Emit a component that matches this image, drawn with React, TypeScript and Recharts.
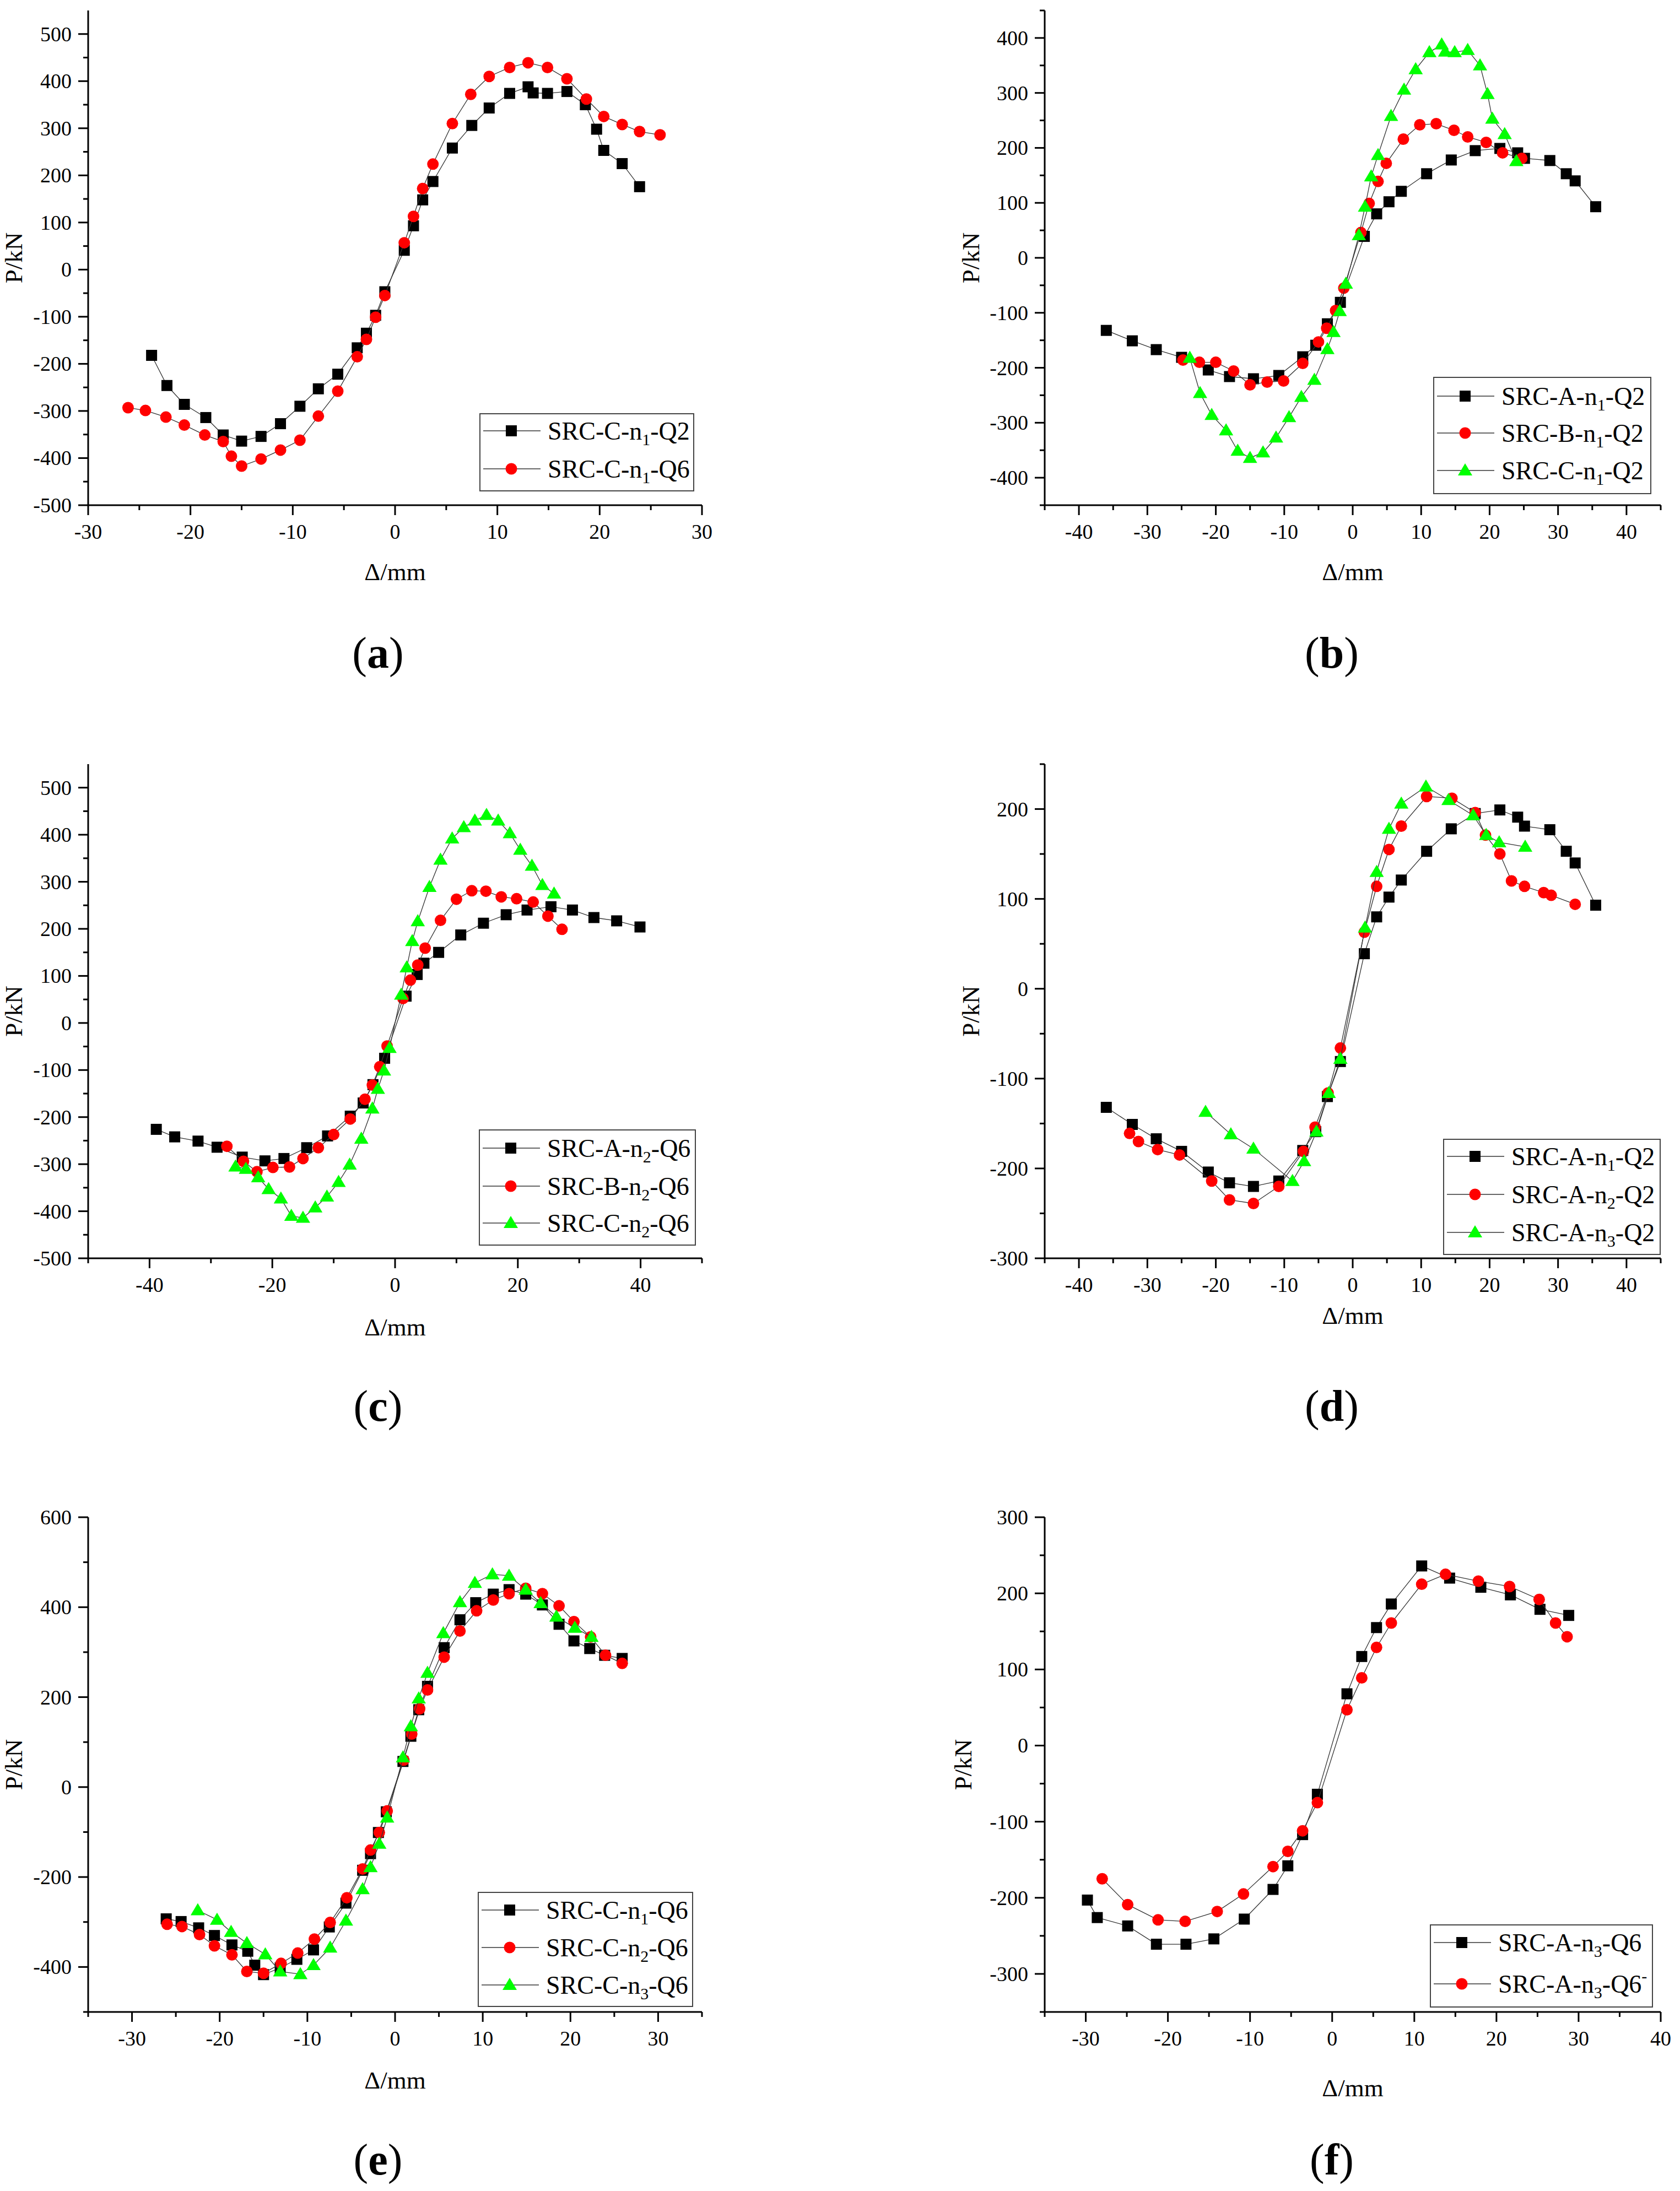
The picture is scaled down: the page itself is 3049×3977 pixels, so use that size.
import React from 'react';
import { ScatterChart, Scatter, XAxis, YAxis, Legend } from 'recharts';

const FONT = '"Liberation Serif", "Times New Roman", serif';

type Pt = [number, number];

// skeleton curves (Δ in mm, P in kN)
const C_n1_Q2: Pt[] = [[-23.8,-182],[-22.3,-246],[-20.6,-286],[-18.5,-314],[-16.8,-351],[-15.0,-364],[-13.1,-354],[-11.2,-327],[-9.3,-290],[-7.5,-253],[-5.6,-222],[-3.7,-166],[-2.8,-135],[-1.9,-97],[-1.0,-47],[0.9,41],[1.8,93],[2.7,148],[3.7,187],[5.6,258],[7.5,306],[9.2,343],[11.2,374],[13.0,388],[13.5,375],[14.9,374],[16.8,378],[18.6,350],[19.7,298],[20.4,253],[22.2,225],[23.9,176]];
const C_n1_Q6: Pt[] = [[-26.1,-293],[-24.4,-299],[-22.4,-313],[-20.6,-330],[-18.6,-351],[-16.8,-365],[-16.0,-396],[-15.0,-417],[-13.1,-402],[-11.2,-383],[-9.3,-362],[-7.5,-311],[-5.6,-258],[-3.7,-185],[-2.8,-148],[-1.9,-101],[-1.0,-55],[0.9,57],[1.8,113],[2.7,172],[3.7,224],[5.6,310],[7.4,372],[9.2,410],[11.2,429],[13.0,439],[14.9,429],[16.8,405],[18.7,362],[20.4,325],[22.2,308],[23.9,293],[25.9,286]];
const A_n1_Q2: Pt[] = [[-36.0,-132],[-32.2,-151],[-28.7,-167],[-25.0,-181],[-21.1,-204],[-18.0,-216],[-14.5,-220],[-10.8,-214],[-7.3,-180],[-5.4,-159],[-3.7,-120],[-1.8,-81],[1.7,39],[3.5,80],[5.3,102],[7.1,121],[10.8,153],[14.4,178],[17.9,195],[21.5,199],[24.1,191],[25.1,181],[28.8,177],[31.2,153],[32.5,140],[35.5,93]];
const B_n1_Q2: Pt[] = [[-24.8,-186],[-22.4,-190],[-20.0,-190],[-17.4,-206],[-15.0,-231],[-12.5,-226],[-10.1,-224],[-7.3,-192],[-5.0,-153],[-3.8,-128],[-2.5,-96],[-1.3,-55],[1.2,46],[2.4,99],[3.7,139],[4.9,172],[7.4,216],[9.8,242],[12.2,244],[14.8,232],[16.8,220],[19.5,210],[21.9,191],[24.7,181]];
const A_n2_Q6: Pt[] = [[-38.9,-226],[-35.9,-242],[-32.1,-251],[-29.0,-264],[-24.9,-285],[-21.2,-293],[-18.1,-288],[-14.4,-265],[-11.0,-240],[-7.3,-198],[-5.2,-170],[-3.6,-131],[-1.7,-75],[1.8,57],[3.6,103],[4.7,127],[7.1,150],[10.7,187],[14.4,212],[18.1,230],[21.5,240],[25.4,247],[28.9,240],[32.4,224],[36.1,217],[39.9,204]];
const B_n2_Q6: Pt[] = [[-27.4,-262],[-24.7,-294],[-22.5,-316],[-19.9,-307],[-17.2,-306],[-15.0,-288],[-12.5,-265],[-10.0,-237],[-7.3,-204],[-4.9,-162],[-3.7,-132],[-2.5,-93],[-1.3,-49],[1.3,52],[2.5,91],[3.7,123],[4.9,159],[7.4,218],[10.0,263],[12.5,281],[14.8,280],[17.3,268],[19.8,264],[22.5,257],[24.9,227],[27.2,199]];
const C_n2_Q6: Pt[] = [[-26.0,-305],[-24.3,-310],[-22.3,-328],[-20.6,-353],[-18.6,-373],[-16.9,-410],[-15.0,-414],[-13.0,-392],[-11.1,-369],[-9.2,-338],[-7.4,-301],[-5.5,-246],[-3.7,-182],[-2.8,-140],[-1.8,-101],[-0.9,-53],[1.0,60],[1.9,118],[2.8,174],[3.7,216],[5.6,289],[7.4,347],[9.3,392],[11.2,416],[13.0,430],[14.9,442],[16.8,430],[18.7,403],[20.4,368],[22.3,334],[24.0,293],[25.9,275]];
const A_n2_Q2: Pt[] = [[-32.6,-161],[-31.3,-170],[-28.5,-179],[-25.3,-185],[-20.6,-214],[-18.0,-235],[-14.5,-239],[-10.8,-220],[-7.2,-181],[-5.5,-154],[-3.6,-116],[-1.8,-66],[1.7,63],[3.5,114],[5.3,155],[7.1,181],[10.8,214],[14.5,212],[17.9,196],[19.4,171],[21.5,150],[23.2,120],[25.1,114],[27.9,107],[29.0,104],[32.5,94]];
const A_n3_Q2: Pt[] = [[-21.5,-137],[-17.8,-162],[-14.5,-178],[-8.8,-214],[-7.1,-192],[-5.3,-159],[-3.5,-116],[-1.8,-78],[1.8,68],[3.5,130],[5.3,178],[7.1,206],[10.7,225],[14.0,210],[17.6,193],[19.5,171],[21.4,163],[25.2,158]];
const C_n3_Q6: Pt[] = [[-22.5,-274],[-20.3,-295],[-18.7,-322],[-16.9,-347],[-14.8,-372],[-13.1,-410],[-10.8,-416],[-9.3,-396],[-7.4,-357],[-5.6,-297],[-3.7,-227],[-2.8,-178],[-1.8,-126],[-0.9,-68],[0.9,66],[1.8,135],[2.7,197],[3.7,254],[5.5,342],[7.4,411],[9.1,454],[11.1,473],[13.0,470],[14.9,439],[16.6,409],[18.4,379],[20.5,354],[22.4,334]];
const A_n3_Q6: Pt[] = [[-29.8,-203],[-28.6,-226],[-24.9,-237],[-21.4,-261],[-17.8,-261],[-14.4,-254],[-10.7,-228],[-7.2,-189],[-5.4,-158],[-3.6,-117],[-1.8,-64],[1.8,68],[3.6,117],[5.4,155],[7.2,186],[10.9,236],[14.3,220],[18.1,208],[21.7,198],[25.3,179],[28.8,171]];
const A_n3_Q6m: Pt[] = [[-28.0,-175],[-24.9,-209],[-21.2,-229],[-17.9,-231],[-14.0,-218],[-10.8,-195],[-7.2,-159],[-5.4,-139],[-3.6,-112],[-1.8,-75],[1.8,47],[3.6,89],[5.4,129],[7.2,161],[10.9,212],[13.8,225],[17.8,216],[21.6,209],[25.2,192],[27.2,161],[28.6,143]];

// axis ticks
const xMajor30 = [-30, -20, -10, 0, 10, 20, 30];
const xMinor30 = [-25, -15, -5, 5, 15, 25];
const xMajor40 = [-40, -30, -20, -10, 0, 10, 20, 30, 40];
const xMinor45 = [-45, -35, -25, -15, -5, 5, 15, 25, 35, 45];
const xMajor40s = [-40, -20, 0, 20, 40];
const xMinor50 = [-50, -30, -10, 10, 30, 50];
const xMinor35 = [-35, -25, -15, -5, 5, 15, 25, 35];
const xMajorF = [-30, -20, -10, 0, 10, 20, 30, 40];
const yMajor500 = [-500, -400, -300, -200, -100, 0, 100, 200, 300, 400, 500];
const yMinor500 = [-450, -350, -250, -150, -50, 50, 150, 250, 350, 450];
const yMajor400 = [-400, -300, -200, -100, 0, 100, 200, 300, 400];
const yMinor450 = [-450, -350, -250, -150, -50, 50, 150, 250, 350, 450];
const yMajorD = [-300, -200, -100, 0, 100, 200];
const yMinorD = [-250, -150, -50, 50, 150, 250];
const yMajorE = [-400, -200, 0, 200, 400, 600];
const yMinorE = [-500, -300, -100, 100, 300, 500];
const yMajorF = [-300, -200, -100, 0, 100, 200, 300];
const yMinorF = [-350, -250, -150, -50, 50, 150, 250];

const pts = (a: Pt[]) => a.map(([x, y]) => ({ x, y }));

type Kind = 'square' | 'circle' | 'triangle';
const drawMarker = (kind: Kind, cx: number, cy: number) => {
  if (kind === 'square') return <rect x={cx - 10} y={cy - 10} width={20} height={20} fill="#000" />;
  if (kind === 'circle') return <circle cx={cx} cy={cy} r={10.5} fill="#ff0000" />;
  return <polygon points={`${cx},${cy - 13} ${cx + 13},${cy + 9} ${cx - 13},${cy + 9}`} fill="#00ff00" />;
};

interface Series { data: Pt[]; kind: Kind; label: string[] }
interface Panel {
  box: [number, number, number, number];
  xDomain: [number, number];
  yDomain: [number, number];
  xMajor: number[]; xMinor: number[];
  yMajor: number[]; yMinor: number[];
  series: Series[];
  legend: { left: number; top: number; w: number; h: number; rows: number[] };
  xTitleOff: number;
  yTitleOff: number;
  caption: string;
}

const panels: Panel[] = [
  {
    box: [160, 19, 1274, 917], xDomain: [-30, 30], yDomain: [-500, 550],
    xMajor: xMajor30, xMinor: xMinor30, yMajor: yMajor500, yMinor: yMinor500,
    series: [
      { data: C_n1_Q2, kind: 'square', label: ['SRC-C-n', '1', '-Q2'] },
      { data: C_n1_Q6, kind: 'circle', label: ['SRC-C-n', '1', '-Q6'] },
    ],
    legend: { left: 870, top: 750, w: 390, h: 142, rows: [32, 101] },
    xTitleOff: 121, yTitleOff: 135, caption: 'a',
  },
  {
    box: [1896, 19, 3014, 917], xDomain: [-45, 45], yDomain: [-450, 450],
    xMajor: xMajor40, xMinor: xMinor45, yMajor: yMajor400, yMinor: yMinor450,
    series: [
      { data: A_n1_Q2, kind: 'square', label: ['SRC-A-n', '1', '-Q2'] },
      { data: B_n1_Q2, kind: 'circle', label: ['SRC-B-n', '1', '-Q2'] },
      { data: C_n1_Q2, kind: 'triangle', label: ['SRC-C-n', '1', '-Q2'] },
    ],
    legend: { left: 2601, top: 684, w: 396, h: 213, rows: [35, 102, 170] },
    xTitleOff: 121, yTitleOff: 134, caption: 'b',
  },
  {
    box: [160, 1387, 1274, 2284], xDomain: [-50, 50], yDomain: [-500, 550],
    xMajor: xMajor40s, xMinor: xMinor50, yMajor: yMajor500, yMinor: yMinor500,
    series: [
      { data: A_n2_Q6, kind: 'square', label: ['SRC-A-n', '2', '-Q6'] },
      { data: B_n2_Q6, kind: 'circle', label: ['SRC-B-n', '2', '-Q6'] },
      { data: C_n2_Q6, kind: 'triangle', label: ['SRC-C-n', '2', '-Q6'] },
    ],
    legend: { left: 869, top: 2050, w: 394, h: 211, rows: [34, 103, 170] },
    xTitleOff: 125, yTitleOff: 135, caption: 'c',
  },
  {
    box: [1896, 1387, 3014, 2284], xDomain: [-45, 45], yDomain: [-300, 250],
    xMajor: xMajor40, xMinor: xMinor45, yMajor: yMajorD, yMinor: yMinorD,
    series: [
      { data: A_n1_Q2, kind: 'square', label: ['SRC-A-n', '1', '-Q2'] },
      { data: A_n2_Q2, kind: 'circle', label: ['SRC-A-n', '2', '-Q2'] },
      { data: A_n3_Q2, kind: 'triangle', label: ['SRC-A-n', '3', '-Q2'] },
    ],
    legend: { left: 2619, top: 2067, w: 395, h: 211, rows: [32, 101, 170] },
    xTitleOff: 104, yTitleOff: 134, caption: 'd',
  },
  {
    box: [160, 2754, 1274, 3652], xDomain: [-35, 35], yDomain: [-500, 600],
    xMajor: xMajor30, xMinor: xMinor35, yMajor: yMajorE, yMinor: yMinorE,
    series: [
      { data: C_n1_Q6, kind: 'square', label: ['SRC-C-n', '1', '-Q6'] },
      { data: C_n2_Q6, kind: 'circle', label: ['SRC-C-n', '2', '-Q6'] },
      { data: C_n3_Q6, kind: 'triangle', label: ['SRC-C-n', '3', '-Q6'] },
    ],
    legend: { left: 867, top: 3434, w: 391, h: 209, rows: [33, 101, 169] },
    xTitleOff: 124, yTitleOff: 135, caption: 'e',
  },
  {
    box: [1896, 2754, 3014, 3652], xDomain: [-35, 40], yDomain: [-350, 300],
    xMajor: xMajorF, xMinor: xMinor35, yMajor: yMajorF, yMinor: yMinorF,
    series: [
      { data: A_n3_Q6, kind: 'square', label: ['SRC-A-n', '3', '-Q6'] },
      { data: A_n3_Q6m, kind: 'circle', label: ['SRC-A-n', '3', '-Q6', '-'] },
    ],
    legend: { left: 2595, top: 3493, w: 405, h: 151, rows: [33, 108] },
    xTitleOff: 138, yTitleOff: 148, caption: 'f',
  },
];

const Y_AXIS_W = 200;
const TOP_M = 40;
const RIGHT_M = 40;
const X_AXIS_H = 200;

const makeXTick = (major: number[]) => (p: any) => {
  const { x, y, payload } = p;
  const isMajor = major.includes(payload.value);
  return (
    <g>
      <line x1={x} x2={x} y1={y} y2={y + (isMajor ? 18 : 9)} stroke="#000" strokeWidth={3} />
      {isMajor && (
        <text x={x} y={y + 48} textAnchor="middle" dominantBaseline="central" fontFamily={FONT} fontSize={38} fill="#000">
          {payload.value}
        </text>
      )}
    </g>
  );
};

const makeYTick = (major: number[]) => (p: any) => {
  const { x, y, payload } = p;
  const isMajor = major.includes(payload.value);
  return (
    <g>
      <line x1={x} x2={x - (isMajor ? 18 : 9)} y1={y} y2={y} stroke="#000" strokeWidth={3} />
      {isMajor && (
        <text x={x - 30} y={y} textAnchor="end" dominantBaseline="central" fontFamily={FONT} fontSize={38} fill="#000">
          {payload.value}
        </text>
      )}
    </g>
  );
};

const LegendBox = ({ series, w, h, rows }: { series: Series[]; w: number; h: number; rows: number[] }) => (
  <svg width={w} height={h} style={{ display: 'block' }}>
    <rect x={1} y={1} width={w - 2} height={h - 2} fill="#fff" stroke="#444" strokeWidth={2} />
    {series.map((s, i) => {
      const cy = rows[i];
      return (
        <g key={i}>
          <line x1={7} x2={111} y1={cy} y2={cy} stroke="#333" strokeWidth={1.3} />
          {drawMarker(s.kind, 58, cy)}
          <text x={124} y={cy + 16} fontFamily={FONT} fontSize={46} fill="#000">
            {s.label[0]}
            <tspan fontSize={30} dy={10}>{s.label[1]}</tspan>
            <tspan dy={-10}>{s.label[2]}</tspan>
            {s.label[3] ? <tspan fontSize={30} dy={-20}>{s.label[3]}</tspan> : null}
          </text>
        </g>
      );
    })}
  </svg>
);

const PanelChart = ({ p }: { p: Panel }) => {
  const [x0, y0, x1, y1] = p.box;
  const left = x0 - Y_AXIS_W;
  const top = y0 - TOP_M;
  const width = x1 - x0 + Y_AXIS_W + RIGHT_M;
  const height = y1 - y0 + TOP_M + X_AXIS_H;
  const xTicks = [...p.xMajor, ...p.xMinor].sort((a, b) => a - b);
  const yTicks = [...p.yMajor, ...p.yMinor].sort((a, b) => a - b);
  const axisStyle = { stroke: '#000', strokeWidth: 3 };
  return (
    <div style={{ position: 'absolute', left, top, width, height }}>
      <ScatterChart width={width} height={height} margin={{ top: TOP_M, right: RIGHT_M, bottom: 0, left: 0 }}>
        <XAxis
          dataKey="x"
          type="number"
          domain={p.xDomain}
          ticks={xTicks}
          interval={0}
          allowDataOverflow
          height={X_AXIS_H}
          tickSize={0}
          tickMargin={0}
          tickLine={false}
          axisLine={axisStyle}
          tick={makeXTick(p.xMajor)}
          label={(lp: any) => {
            const vb = lp.viewBox;
            return (
              <text x={vb.x + vb.width / 2} y={vb.y + p.xTitleOff} textAnchor="middle" dominantBaseline="central" fontFamily={FONT} fontSize={45} fill="#000">
                Δ/mm
              </text>
            );
          }}
        />
        <YAxis
          dataKey="y"
          type="number"
          domain={p.yDomain}
          ticks={yTicks}
          interval={0}
          allowDataOverflow
          width={Y_AXIS_W}
          tickSize={0}
          tickMargin={0}
          tickLine={false}
          axisLine={axisStyle}
          tick={makeYTick(p.yMajor)}
          label={(lp: any) => {
            const vb = lp.viewBox;
            const cx = vb.x + vb.width - p.yTitleOff;
            const cy = vb.y + vb.height / 2;
            return (
              <text x={cx} y={cy} transform={`rotate(-90, ${cx}, ${cy})`} textAnchor="middle" dominantBaseline="central" fontFamily={FONT} fontSize={45} fill="#000">
                P/kN
              </text>
            );
          }}
        />
        <XAxis xAxisId="top" orientation="top" type="number" domain={p.xDomain} height={0} tick={false} tickLine={false} axisLine={axisStyle} />
        <YAxis yAxisId="right" orientation="right" type="number" domain={p.yDomain} width={0} tick={false} tickLine={false} axisLine={axisStyle} />
        {p.series.map((s, i) => (
          <Scatter
            key={i}
            data={pts(s.data)}
            line={{ stroke: '#333', strokeWidth: 1.3 }}
            lineType="joint"
            shape={(sp: any) => drawMarker(s.kind, sp.cx, sp.cy)}
            isAnimationActive={false}
          />
        ))}
        <Legend
          content={() => <LegendBox series={p.series} w={p.legend.w} h={p.legend.h} rows={p.legend.rows} />}
          wrapperStyle={{
            position: 'absolute',
            left: p.legend.left - left,
            top: p.legend.top - top,
            right: 'auto',
            bottom: 'auto',
            width: 0,
            height: 0,
            overflow: 'visible',
          }}
        />
      </ScatterChart>
    </div>
  );
};

const captionPos = [
  { cx: 686, base: 1212 },
  { cx: 2417, base: 1212 },
  { cx: 686, base: 2579 },
  { cx: 2417, base: 2579 },
  { cx: 686, base: 3947 },
  { cx: 2417, base: 3947 },
];

export default function App() {
  return (
    <div style={{ position: 'absolute', left: 0, top: 0, width: 3049, height: 3977, background: '#fff', overflow: 'hidden' }}>
      {panels.map((p, i) => (
        <PanelChart key={i} p={p} />
      ))}
      {panels.map((p, i) => (
        <div
          key={'c' + i}
          style={{
            position: 'absolute',
            left: captionPos[i].cx - 150,
            top: captionPos[i].base - 67,
            width: 300,
            textAlign: 'center',
            fontFamily: FONT,
            fontSize: 80,
            lineHeight: '80px',
            color: '#000',
          }}
        >
          (<b>{p.caption}</b>)
        </div>
      ))}
    </div>
  );
}
